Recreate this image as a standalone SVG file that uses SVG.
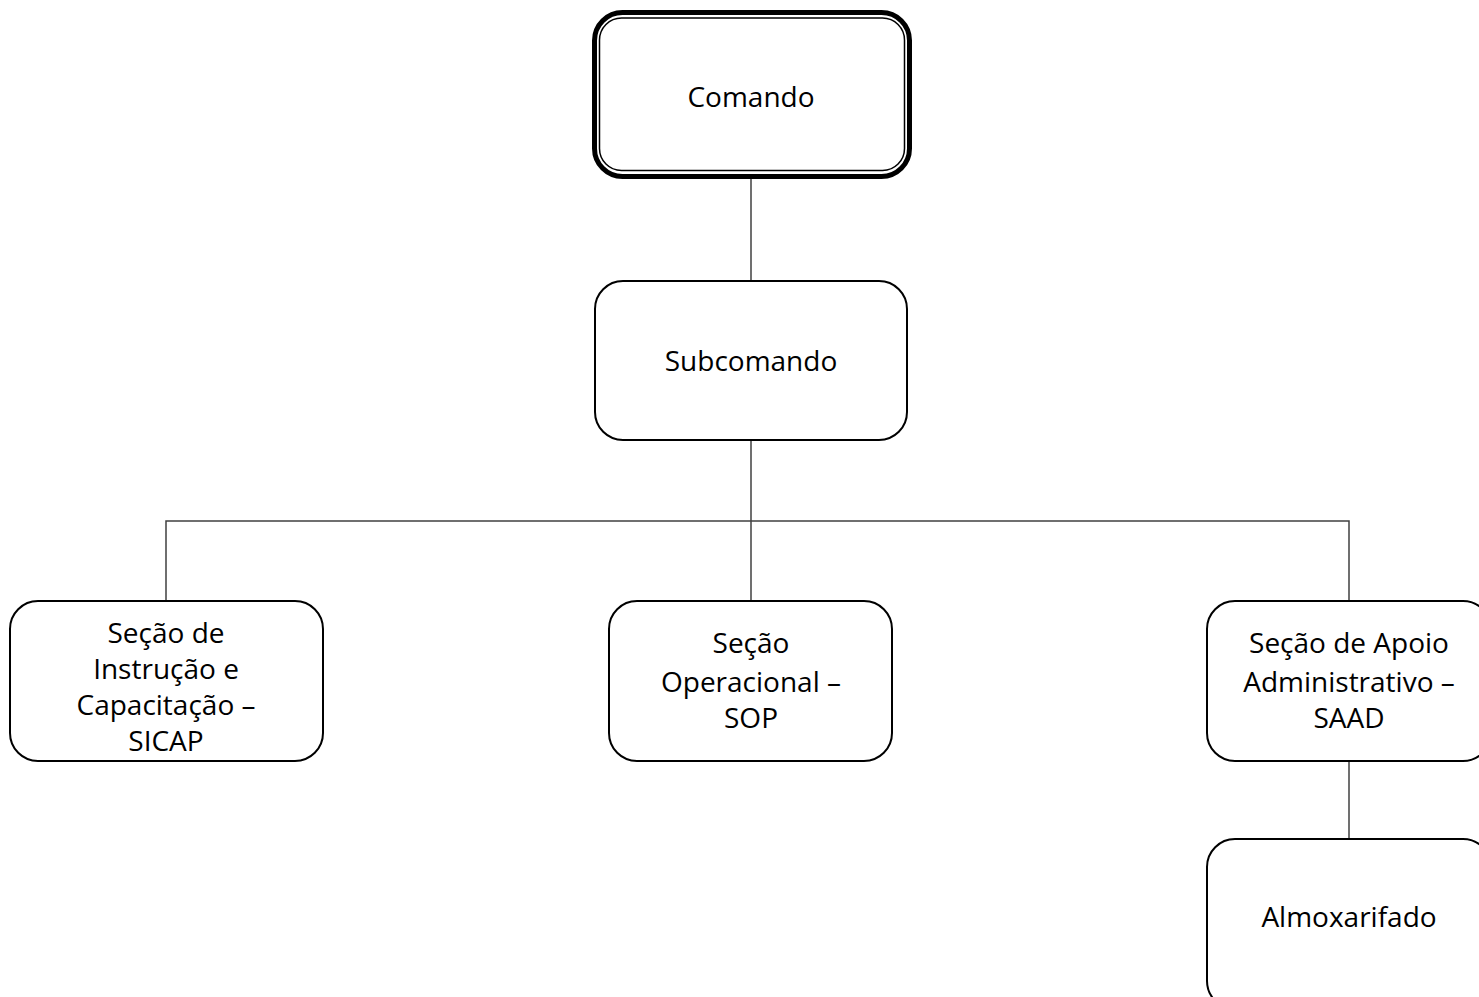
<svg xmlns="http://www.w3.org/2000/svg" width="1479" height="997" viewBox="0 0 1479 997">
<style>
.box{fill:#fff;stroke:#000;stroke-width:2}
.t{font-family:"Open Sans","Liberation Sans",sans-serif;font-size:28px;fill:#000;text-anchor:middle}
.c{stroke:#404040;stroke-width:1.5;fill:none}
</style>
<rect width="1479" height="997" fill="#fff"/>
<g id="connectors">
<line class="c" x1="751" y1="179" x2="751" y2="281"/>
<line class="c" x1="751" y1="440" x2="751" y2="601"/>
<polyline class="c" points="166,601 166,521 1349,521 1349,601"/>
<line class="c" x1="1349" y1="761" x2="1349" y2="839"/>
</g>
<g id="comando">
<rect x="594.5" y="12.5" width="315" height="164" rx="28" fill="#fff" stroke="#000" stroke-width="5"/>
<rect x="599.5" y="18" width="305" height="152.5" rx="22" fill="none" stroke="#000" stroke-width="1.5"/>
<text class="t" x="751" y="107">Comando</text>
</g>
<g id="subcomando">
<rect class="box" x="595" y="281" width="312" height="159" rx="28"/>
<text class="t" x="751" y="371">Subcomando</text>
</g>
<g id="sicap">
<rect class="box" x="10" y="601" width="313" height="160" rx="28"/>
<text class="t" x="166" y="643">Seção de</text>
<text class="t" x="166" y="679">Instrução e</text>
<text class="t" x="166" y="715">Capacitação –</text>
<text class="t" x="166" y="751">SICAP</text>
</g>
<g id="sop">
<rect class="box" x="609" y="601" width="283" height="160" rx="28"/>
<text class="t" x="751" y="653">Seção</text>
<text class="t" x="751" y="692">Operacional –</text>
<text class="t" x="751" y="728">SOP</text>
</g>
<g id="saad">
<rect class="box" x="1207" y="601" width="284" height="160" rx="28"/>
<text class="t" x="1349" y="653">Seção de Apoio</text>
<text class="t" x="1349" y="692">Administrativo –</text>
<text class="t" x="1349" y="728">SAAD</text>
</g>
<g id="almoxarifado">
<rect class="box" x="1207" y="839" width="284" height="170" rx="28"/>
<text class="t" x="1349" y="927">Almoxarifado</text>
</g>
</svg>
